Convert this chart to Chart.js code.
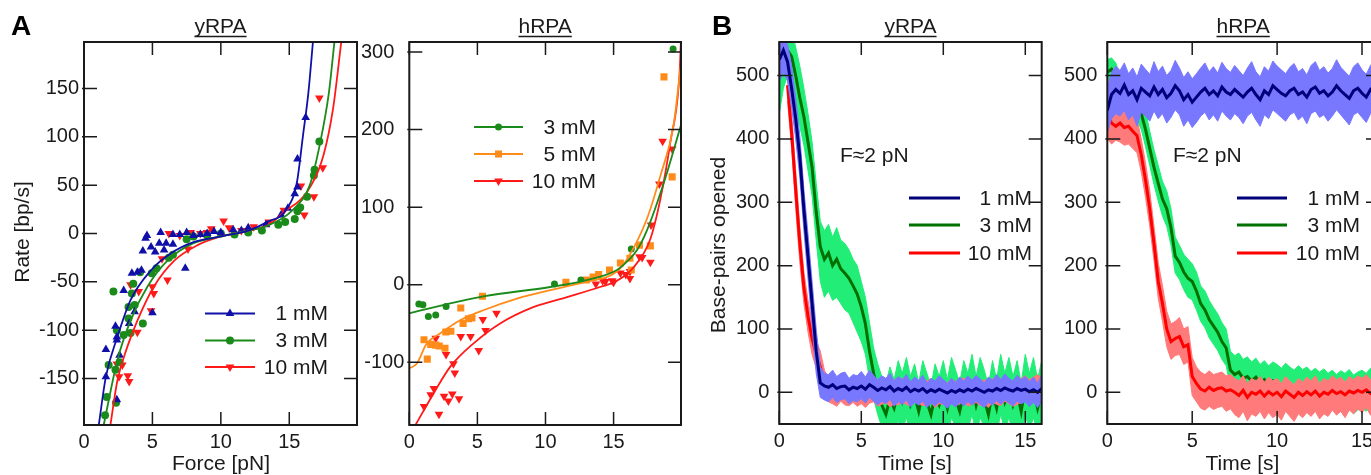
<!DOCTYPE html>
<html>
<head>
<meta charset="utf-8">
<script src="https://cdn.jsdelivr.net/npm/chart.js@4.4.0/dist/chart.umd.min.js"></script>
<style>
  html, body { margin: 0; padding: 0; background: #fff; }
  body { width: 1371px; height: 475px; overflow: hidden; position: relative; }
  canvas { position: absolute; top: 0; }
</style>
</head>
<body>
<canvas id="a1" width="370" height="475" style="left:0px"></canvas>
<canvas id="a2" width="360" height="475" style="left:330px"></canvas>
<canvas id="b1" width="375" height="475" style="left:690px"></canvas>
<canvas id="b2" width="340" height="475" style="left:1060px"></canvas>
<script>
const FONT = "'Liberation Sans', Arial, Helvetica, sans-serif";
const INK = "#1a1a1a";
const TICK = 13;

const BLUE = "#1010a8", GREEN = "#1a8a1a", RED = "#ff1a1a", ORANGE = "#ff8c1a";

// tick values
const FORCE_TICKS = [0, 5, 10, 15];
const YR_RATE_TICKS = [-150, -100, -50, 0, 50, 100, 150];
const HR_RATE_TICKS = [-100, 0, 100, 200, 300];
const TIME_TICKS = [0, 5, 10, 15];
const BP_TICKS = [0, 100, 200, 300, 400, 500];

// ---- A, yRPA: rate vs force (points) ----
const YR_F_1MM = [1.6,1.6,2.3,2.4,2.4,2.4,2.6,2.9,3.3,3.5,3.7,3.9,4.2,4.3,4.5,4.6,4.9,5.0,5.2,5.5,5.6,5.85,6.0,6.5,6.5,7.0,7.4,7.5,8.0,8.5,9.0,9.5,10.0,10.9,11.5,12.0,13.3,14.4,14.9,15.4,15.6,15.6,16.2];
const YR_R_1MM = [-148,-120,-96,-107,-172,-110,-126,-59,-93,-41,-81,-40,-38,-18,-5,-2,-14,-82,-19,-10,1,-17,-10,-11,-1,-1,-36,1,-2,-1,0,2,1,4,3,6,9,19,26,41,48,77,120];
const YR_F_3MM = [1.54,1.66,1.8,2.15,2.3,2.34,2.4,2.6,2.9,3.25,3.25,3.4,3.5,3.6,3.7,4.1,4.3,4.95,5.3,6.2,6.5,7.5,8.0,9.0,10.0,11.0,12.0,13.0,14.2,14.7,15.4,15.6,15.8,16.3,16.8,16.85,17.2];
const YR_R_3MM = [-188,-169,-136,-60,-141,-175,-100,-133,-105,-76,-88,-103,-62,-52,-74,-40,-93,-41,-36,-25,-22,-6,-3,-2,0,-1,1,3,9,12,15,23,27,38,60,66,95];
const YR_F_10MM = [2.4,2.56,2.8,3.2,3.3,3.4,3.9,4.0,4.9,5.0,5.1,5.7,6.1,6.2,7.0,7.6,7.8,8.5,9.0,9.3,10.2,10.6,11.5,12.4,13.5,14.6,15.85,16.1,16.8,17.2,17.45];
const YR_R_10MM = [-135,-148,-136,-147,-153,-53,-102,-60,-80,-55,-62,-26,-48,0,-2,-16,1,0,1,5,13,6,3,7,12,24,49,19,38,140,68];

// fitted curves
const YR_FIT_F_1MM = [1.08,1.6,2.44,3.4,4.9,6.3,8.0,10,12,13.4,14.8,15.56,16.0,16.4,16.73];
const YR_FIT_R_1MM = [-198,-148,-107,-69,-38,-21,-9,-3,3,12,25,53,101,146,198];
const YR_FIT_F_3MM = [1.44,2.44,3.4,4.63,6.1,8.0,10,12,13.4,15.3,16.5,17.26,17.9,18.3];
const YR_FIT_R_3MM = [-198,-131,-90,-55,-28,-10,-3,3,8,25,50,94,146,198];
const YR_FIT_F_10MM = [1.93,2.44,3.17,3.9,5.1,6.6,8.3,10,12,13.5,14.6,16.3,17.5,18.2,18.8];
const YR_FIT_R_10MM = [-198,-152,-117,-90,-55,-28,-12,-3,3,9,22,43,81,129,198];

// ---- A, hRPA ----
const HR_F_3MM = [0.7,1.0,1.4,1.94,2.7,10.66,12.6,16.3,19.37];
const HR_R_3MM = [-25,-26,-41,-39,-28,1,6,46,304];
const HR_F_5MM = [1.08,1.32,1.57,1.94,2.2,2.62,2.68,3.05,3.78,3.95,4.34,4.6,5.37,11.5,13.0,13.5,13.9,14.7,15.5,16.2,16.3,16.9,17.7,18.7,19.3];
const HR_R_5MM = [-71,-96,-77,-78,-79,-82,-61,-60,-30,-50,-44,-43,-15,3,6,10,13,19,28,34,19,51,50,268,139];
const HR_F_10MM = [1.08,1.57,1.8,1.94,2.18,2.55,2.7,2.87,3.16,3.24,3.34,3.65,3.78,4.5,5.1,5.4,5.6,6.4,13.7,14.2,14.4,14.9,15.0,15.5,15.9,16.2,16.2,16.9,17.1,17.7,17.75,18.36,18.6,19.3];
const HR_R_10MM = [-157,-142,-134,-69,-167,-144,-90,-150,-141,-102,-114,-147,-67,-67,-85,-45,-59,-37,1,5,4,5,3,15,13,8,17,36,35,29,77,130,185,175];

const HR_FIT_F_3MM = [0,3.0,5.44,10.35,12.8,15.25,16.0,16.7,17.45,18.7,19.95];
const HR_FIT_R_3MM = [-37,-24,-15,-3,5,19,30,44,70,132,206];
const HR_FIT_F_5MM = [0,0.54,1.28,2.26,3.73,5.44,7.9,10.35,12.8,15.25,16.0,17.45,18.43,19.4,19.95];
const HR_FIT_R_5MM = [-108,-102,-76,-63,-46,-33,-18,-7,3,17,33,85,140,205,285];
const HR_FIT_F_10MM = [0.45,1.76,3.0,4.7,6.67,9.1,11.57,14.0,15.25,16.5,17.7,18.43,19.17,19.85,19.95];
const HR_FIT_R_10MM = [-181,-141,-106,-76,-50,-29,-16,-3,5,23,59,110,184,274,318];

// ---- B: base-pairs opened vs time (smoothed trace + raw envelope) ----
const TIME = [0,0.25,0.5,0.75,1,1.25,1.5,1.75,2,2.25,2.5,2.75,3,3.25,3.5,3.75,4,4.25,4.5,4.75,5,5.25,5.5,5.75,6,6.25,6.5,6.75,7,7.25,7.5,7.75,8,8.25,8.5,8.75,9,9.25,9.5,9.75,10,10.25,10.5,10.75,11,11.25,11.5,11.75,12,12.25,12.5,12.75,13,13.25,13.5,13.75,14,14.25,14.5,14.75,15,15.25,15.5,15.75,16];

const YB_1MM = [525,540,522,480,432,372,288,215,140,65,15,10,8,12,6,9,10,4,8,6,10,5,12,8,3,7,4,9,2,6,3,8,1,5,2,6,0,4,1,5,2,-1,3,0,4,1,5,2,6,3,0,4,2,6,3,7,4,2,6,3,5,1,4,0,6];
const YB_1MM_HI = [553,555,550,515,465,405,320,250,175,100,40,30,28,35,25,30,32,22,28,26,33,24,35,27,20,26,22,30,18,25,20,28,17,24,19,27,15,22,18,26,20,14,22,16,24,18,26,19,27,21,15,24,19,28,20,29,22,18,27,20,25,17,24,14,28];
const YB_1MM_LO = [490,505,492,450,400,340,255,180,105,30,-8,-12,-15,-8,-16,-12,-10,-18,-13,-15,-10,-17,-8,-14,-20,-14,-18,-11,-22,-15,-19,-12,-23,-16,-20,-14,-24,-17,-21,-15,-19,-25,-18,-23,-16,-21,-15,-20,-14,-19,-24,-16,-20,-13,-19,-12,-17,-21,-14,-18,-15,-22,-16,-24,-13];
const YB_3MM = [505,525,540,530,500,465,435,395,355,285,230,210,220,200,210,195,188,180,168,155,135,108,65,30,5,-20,-35,-10,-25,0,-15,5,-20,-5,-30,0,-15,-35,-5,-20,0,-25,5,-10,-30,0,-15,10,-20,5,-10,-35,0,-25,10,-15,5,-20,0,-30,10,-15,5,-25,0];
const YB_3MM_HI = [540,560,575,570,545,515,480,440,395,330,270,255,265,245,260,240,235,225,210,200,175,150,110,70,45,25,15,40,20,50,30,55,25,45,15,50,30,10,45,25,50,20,55,35,15,50,30,60,25,55,35,10,50,20,60,30,55,25,50,15,60,30,55,20,50];
const YB_3MM_LO = [440,480,500,490,455,420,390,350,310,240,175,150,160,145,150,140,130,125,110,95,80,60,20,-10,-35,-55,-70,-55,-65,-45,-60,-40,-65,-50,-70,-45,-60,-75,-50,-65,-45,-70,-40,-55,-75,-45,-60,-35,-65,-40,-55,-75,-45,-65,-35,-60,-40,-65,-45,-70,-35,-60,-40,-65,-45];
const YB_10MM = [null,null,485,410,320,235,165,120,85,60,40,15,5,2,-3,4,0,-2,3,-1,2,-4,1,3,-2,0,2,-3,1,-1,2,0,-2,3,1,-1,0,2,-3,1,0,-2,2,-1,1,3,-2,0,2,-1,1,-3,2,0,-1,3,1,-2,0,2,4,1,3,5,2];
const YB_10MM_HI = [null,null,500,440,350,262,190,145,110,82,65,35,22,20,15,24,18,16,22,17,20,14,21,23,16,19,22,15,20,17,22,18,16,23,19,17,18,22,14,20,18,15,21,17,19,23,15,18,22,17,20,14,22,18,16,24,20,15,19,22,26,20,24,28,22];
const YB_10MM_LO = [null,null,460,385,290,205,140,95,60,38,18,-5,-15,-18,-22,-14,-20,-21,-16,-22,-18,-24,-17,-15,-22,-19,-16,-23,-18,-20,-16,-19,-22,-15,-18,-21,-20,-16,-24,-18,-19,-22,-17,-21,-18,-14,-22,-19,-16,-21,-18,-24,-16,-19,-21,-14,-18,-22,-19,-16,-12,-17,-13,-10,-15];

const HB_1MM = [445,470,478,472,485,470,476,462,480,474,468,482,470,478,465,472,484,476,462,470,458,466,474,480,470,476,468,482,474,470,478,472,466,474,480,470,462,476,470,484,478,472,468,476,480,470,474,466,478,482,472,476,468,474,484,476,470,464,476,480,472,466,478,484,470];
const HB_1MM_HI = [480,505,515,508,520,503,512,498,518,510,502,522,506,515,500,508,524,512,497,506,495,503,512,520,506,514,504,521,511,505,516,508,500,512,522,506,498,514,507,523,515,509,503,513,519,506,511,501,516,522,508,514,504,511,525,513,506,499,514,520,509,502,516,524,506];
const HB_1MM_LO = [410,432,440,436,445,430,438,420,442,436,428,444,432,440,425,434,446,438,420,430,418,426,436,442,430,438,428,444,436,430,440,434,424,436,442,430,420,438,432,446,440,434,428,438,442,430,436,424,440,444,434,438,428,436,446,438,430,422,438,442,434,426,440,446,430];
const HB_3MM = [505,510,500,470,465,470,460,455,440,415,385,355,330,305,290,260,215,205,190,180,175,160,140,130,115,105,95,80,70,35,28,32,22,25,18,24,15,20,12,18,14,8,16,10,5,12,6,10,3,8,2,7,0,5,-2,4,0,6,-3,2,5,0,8,3,10];
const HB_3MM_HI = [525,528,520,500,490,495,485,480,470,445,412,383,358,333,318,290,245,232,218,210,203,190,168,160,145,134,124,110,100,65,58,62,52,56,48,54,44,50,42,48,44,38,46,40,35,42,36,40,33,38,32,37,30,35,28,34,30,36,27,32,35,30,38,33,40];
const HB_3MM_LO = [488,492,440,405,440,445,435,430,415,388,358,328,302,278,262,232,188,178,162,150,146,130,112,102,86,76,66,52,42,8,0,5,-6,-3,-10,-4,-14,-8,-16,-10,-14,-20,-12,-18,-24,-16,-22,-18,-26,-20,-28,-22,-30,-24,-32,-25,-30,-22,-34,-28,-25,-30,-22,-28,-20];
const HB_10MM = [440,425,420,425,418,420,412,405,375,335,290,235,175,140,100,80,85,88,72,75,25,14,5,2,8,3,6,7,2,4,0,-5,3,-8,0,-3,2,-6,1,-4,0,-7,2,-3,-8,0,-5,1,-4,2,-6,0,-3,3,-2,1,-4,2,-1,3,0,4,-2,1,3];
const HB_10MM_HI = [500,455,450,455,445,448,440,432,400,362,318,262,205,168,128,108,112,118,100,104,55,40,32,28,34,28,30,32,26,28,22,18,26,14,22,18,25,16,24,18,22,14,25,18,12,22,16,24,18,26,14,22,18,26,20,24,16,25,20,26,22,28,20,24,26];
const HB_10MM_LO = [400,392,398,395,390,392,385,378,348,308,262,208,148,112,72,52,58,60,44,48,-5,-15,-25,-28,-22,-27,-24,-22,-30,-26,-35,-40,-30,-45,-34,-38,-30,-42,-32,-40,-35,-44,-30,-38,-46,-34,-40,-32,-38,-30,-42,-34,-38,-28,-36,-30,-40,-28,-34,-26,-32,-24,-36,-30,-26];

function pts(xs, ys) {
  return xs.map((x, i) => ({x: x, y: ys[i]})).filter(p => p.y !== null);
}

function fit(xs, ys, color) {
  return { data: pts(xs, ys), borderColor: color, borderWidth: 1.8, pointRadius: 0,
           cubicInterpolationMode: 'monotone', fill: false };
}
function marks(xs, ys, color, style, r, rot) {
  return { data: pts(xs, ys), showLine: false, pointStyle: style, pointRadius: r,
           pointRotation: rot || 0, pointBackgroundColor: color, pointBorderWidth: 0,
           borderColor: color };
}
// smoothed trace on top of a filled envelope of the raw signal
function trace(ys, hi, lo, dark, light) {
  return [
    { data: pts(TIME, ys), borderColor: dark, borderWidth: 3, pointRadius: 0, fill: false },
    { data: pts(TIME, hi), borderColor: light, borderWidth: 1, pointRadius: 0, fill: '+1', backgroundColor: light },
    { data: pts(TIME, lo), borderColor: light, borderWidth: 1, pointRadius: 0, fill: false }
  ];
}

const decor = {
  id: 'decor',
  afterDraw(chart, args, o) {
    const ctx = chart.ctx, a = chart.chartArea, sx = chart.scales.x, sy = chart.scales.y;
    ctx.save();
    // inward ticks on all four sides, then the frame
    ctx.strokeStyle = INK;
    ctx.lineWidth = 1.5;
    ctx.beginPath();
    sx.ticks.forEach(t => {
      const p = sx.getPixelForValue(t.value);
      ctx.moveTo(p, a.bottom); ctx.lineTo(p, a.bottom - TICK);
      ctx.moveTo(p, a.top); ctx.lineTo(p, a.top + TICK);
    });
    sy.ticks.forEach(t => {
      const p = sy.getPixelForValue(t.value);
      ctx.moveTo(a.left - 2, p); ctx.lineTo(a.left + TICK, p);
      ctx.moveTo(a.right, p); ctx.lineTo(a.right - TICK, p);
    });
    ctx.stroke();
    ctx.lineWidth = 2;
    ctx.strokeRect(a.left, a.top, a.right - a.left, a.bottom - a.top);

    ctx.fillStyle = INK;
    ctx.font = '21px ' + FONT;
    // underlined panel title
    const cx = (a.left + a.right) / 2;
    ctx.textAlign = 'center'; ctx.textBaseline = 'alphabetic';
    ctx.fillText(o.title, cx, 33);
    const w = ctx.measureText(o.title).width;
    ctx.lineWidth = 1.3;
    ctx.beginPath(); ctx.moveTo(cx - w / 2, 36.5); ctx.lineTo(cx + w / 2, 36.5); ctx.stroke();

    if (o.xTitle) {
      ctx.textBaseline = 'middle';
      ctx.fillText(o.xTitle.text, o.xTitle.x, o.xTitle.y);
    }
    if (o.yTitle) {
      ctx.save();
      ctx.translate(o.yTitle.x, o.yTitle.y);
      ctx.rotate(-Math.PI / 2);
      ctx.textBaseline = 'middle';
      ctx.fillText(o.yTitle.text, 0, 0);
      ctx.restore();
    }
    if (o.note) {
      ctx.textAlign = 'left'; ctx.textBaseline = 'alphabetic';
      ctx.fillText(o.note.text, o.note.x, o.note.y);
    }
    if (o.legend) {
      const L = o.legend;
      L.entries.forEach((e, i) => {
        const y = L.rows[i];
        const ln = chart.data.datasets[e.line];
        ctx.strokeStyle = ln.borderColor;
        ctx.lineWidth = L.width;
        ctx.beginPath(); ctx.moveTo(L.x0, y); ctx.lineTo(L.x1, y); ctx.stroke();
        if (e.marker !== undefined) {
          const m = chart.data.datasets[e.marker];
          ctx.fillStyle = m.pointBackgroundColor;
          Chart.helpers.drawPoint(ctx, { pointStyle: m.pointStyle, rotation: m.pointRotation,
            radius: m.pointRadius, borderWidth: 0 }, (L.x0 + L.x1) / 2, y);
        }
        ctx.fillStyle = INK;
        ctx.textAlign = 'right'; ctx.textBaseline = 'middle';
        ctx.fillText(e.label, L.right, y + 1);
      });
    }
    if (o.label) {
      ctx.fillStyle = '#000';
      ctx.font = 'bold 28px ' + FONT;
      ctx.textAlign = 'left'; ctx.textBaseline = 'alphabetic';
      ctx.fillText(o.label.text, o.label.x, o.label.y);
    }
    ctx.restore();
  }
};

function panel(id, p) {
  const tickFont = { family: FONT, size: 20 };
  return new Chart(document.getElementById(id), {
    type: 'line',
    data: { datasets: p.datasets },
    options: {
      responsive: false,
      animation: false,
      events: [],
      layout: { padding: { left: 0, top: 42, right: p.padRight, bottom: 0 } },
      plugins: { legend: { display: false }, tooltip: { enabled: false }, decor: p.decor },
      scales: {
        x: {
          type: 'linear', min: p.x[0], max: p.x[1],
          grid: { display: false, drawTicks: false }, border: { display: false },
          ticks: { autoSkip: false, maxRotation: 0, padding: 5, color: INK, font: tickFont },
          afterBuildTicks: s => { s.ticks = p.xticks.map(v => ({ value: v })); },
          afterFit: s => { s.height = p.xh; }
        },
        y: {
          type: 'linear', min: p.y[0], max: p.y[1],
          grid: { display: false, drawTicks: false }, border: { display: false },
          ticks: { autoSkip: false, padding: p.ypad, color: INK, font: tickFont,
                   callback: p.ylabel || (v => String(v)) },
          afterBuildTicks: s => { s.ticks = p.yticks.map(v => ({ value: v })); },
          afterFit: s => { s.width = p.yw; }
        }
      }
    },
    plugins: [decor]
  });
}

panel('a1', {
  x: [0, 19.95], y: [-198, 198], xticks: FORCE_TICKS, yticks: YR_RATE_TICKS,
  yw: 84, xh: 50, ypad: 5, padRight: 13,
  datasets: [
    fit(YR_FIT_F_1MM, YR_FIT_R_1MM, BLUE),
    fit(YR_FIT_F_3MM, YR_FIT_R_3MM, GREEN),
    fit(YR_FIT_F_10MM, YR_FIT_R_10MM, RED),
    marks(YR_F_1MM, YR_R_1MM, BLUE, 'triangle', 5),
    marks(YR_F_3MM, YR_R_3MM, GREEN, 'circle', 4),
    marks(YR_F_10MM, YR_R_10MM, RED, 'triangle', 5, 180)
  ],
  decor: {
    title: 'yRPA',
    label: { text: 'A', x: 11, y: 35 },
    xTitle: { text: 'Force [pN]', x: 221, y: 464 },
    yTitle: { text: 'Rate [bp/s]', x: 23, y: 232 },
    legend: { x0: 205, x1: 255, right: 328, width: 1.8, rows: [313.5, 340.5, 367],
      entries: [ { label: '1 mM', line: 0, marker: 3 },
                 { label: '3 mM', line: 1, marker: 4 },
                 { label: '10 mM', line: 2, marker: 5 } ] }
  }
});

// in the hRPA panel the positive labels sit a little further from the axis
panel('a2', {
  x: [0, 19.95], y: [-181, 313], xticks: FORCE_TICKS, yticks: HR_RATE_TICKS,
  yw: 79.3, xh: 50, ypad: 5, padRight: 9,
  ylabel: v => (v > 0 ? v + '\u2002' : String(v)),
  datasets: [
    fit(HR_FIT_F_3MM, HR_FIT_R_3MM, GREEN),
    fit(HR_FIT_F_5MM, HR_FIT_R_5MM, ORANGE),
    fit(HR_FIT_F_10MM, HR_FIT_R_10MM, RED),
    marks(HR_F_3MM, HR_R_3MM, GREEN, 'circle', 3.5),
    marks(HR_F_5MM, HR_R_5MM, ORANGE, 'rect', 5),
    marks(HR_F_10MM, HR_R_10MM, RED, 'triangle', 5, 180)
  ],
  decor: {
    title: 'hRPA',
    legend: { x0: 144, x1: 193, right: 266, width: 1.8, rows: [127, 154, 181],
      entries: [ { label: '3 mM', line: 0, marker: 3 },
                 { label: '5 mM', line: 1, marker: 4 },
                 { label: '10 mM', line: 2, marker: 5 } ] }
  }
});

const LBLUE = "#7878ff", DBLUE = "#00007a";
const LGREEN = "#22ee77", DGREEN = "#007000";
const LRED = "#ff7a7a", DRED = "#ff0000";

panel('b1', {
  x: [0, 16], y: [-50, 553], xticks: TIME_TICKS, yticks: BP_TICKS,
  yw: 89.3, xh: 51, ypad: 10, padRight: 23.3,
  datasets: [].concat(
    trace(YB_1MM, YB_1MM_HI, YB_1MM_LO, DBLUE, LBLUE),
    trace(YB_10MM, YB_10MM_HI, YB_10MM_LO, DRED, LRED),
    trace(YB_3MM, YB_3MM_HI, YB_3MM_LO, DGREEN, LGREEN)
  ),
  decor: {
    title: 'yRPA',
    label: { text: 'B', x: 22, y: 35 },
    xTitle: { text: 'Time [s]', x: 225, y: 464 },
    yTitle: { text: 'Base-pairs opened', x: 29, y: 245 },
    note: { text: 'F\u22482 pN', x: 150, y: 162 },
    legend: { x0: 219, x1: 270, right: 342, width: 3, rows: [198, 225, 253],
      entries: [ { label: '1 mM', line: 0 },
                 { label: '3 mM', line: 6 },
                 { label: '10 mM', line: 3 } ] }
  }
});

panel('b2', {
  x: [0, 16], y: [-50, 553], xticks: TIME_TICKS, yticks: BP_TICKS,
  yw: 47.3, xh: 51, ypad: 10, padRight: 21,
  datasets: [].concat(
    trace(HB_1MM, HB_1MM_HI, HB_1MM_LO, DBLUE, LBLUE),
    trace(HB_10MM, HB_10MM_HI, HB_10MM_LO, DRED, LRED),
    trace(HB_3MM, HB_3MM_HI, HB_3MM_LO, DGREEN, LGREEN)
  ),
  decor: {
    title: 'hRPA',
    xTitle: { text: 'Time [s]', x: 182.5, y: 464 },
    note: { text: 'F\u22482 pN', x: 113, y: 162 },
    legend: { x0: 177, x1: 227, right: 300, width: 3, rows: [198, 225, 253],
      entries: [ { label: '1 mM', line: 0 },
                 { label: '3 mM', line: 6 },
                 { label: '10 mM', line: 3 } ] }
  }
});
</script>
</body>
</html>
